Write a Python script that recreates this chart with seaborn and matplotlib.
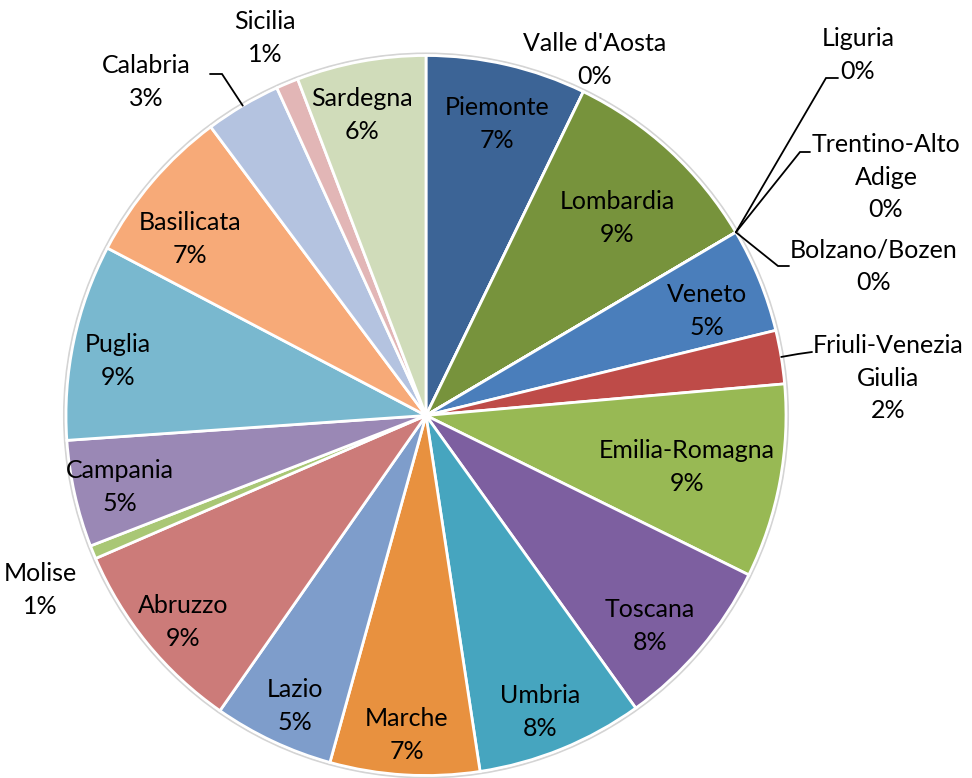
import matplotlib
matplotlib.use("Agg")
import matplotlib.pyplot as plt
import seaborn as sns
import numpy as np

regions = ["Piemonte", "Valle d'Aosta", "Lombardia", "Liguria", "Trentino-Alto\nAdige",
           "Bolzano/Bozen", "Veneto", "Friuli-Venezia\nGiulia", "Emilia-Romagna", "Toscana",
           "Umbria", "Marche", "Lazio", "Abruzzo", "Molise", "Campania", "Puglia",
           "Basilicata", "Calabria", "Sicilia", "Sardegna"]
shares = [7.2, 0.0, 9.3, 0.0, 0.0, 0.0, 4.7, 2.4, 8.7, 7.8, 7.5, 6.7, 5.4, 8.8, 0.6,
          4.8, 8.8, 7.1, 3.4, 1.0, 5.8]
colors = ["#3C6496", "#7A9442", "#77933C", "#4A7EBB", "#4A7EBB", "#4A7EBB", "#4A7EBB",
          "#BE4B48", "#98B954", "#7D5FA0", "#46A5BF", "#E8913F", "#7E9DCB", "#CC7B79",
          "#A9C775", "#9A88B5", "#79B8CF", "#F7AA78", "#B4C3E0", "#E2B6B6", "#D0DCBA"]

# label positions (pixel coordinates, top-left origin)
label_pos = {
    "Piemonte": (497, 124), "Valle d'Aosta": (595, 60), "Lombardia": (617, 218),
    "Liguria": (858, 55), "Trentino-Alto\nAdige": (886, 177), "Bolzano/Bozen": (874, 266),
    "Veneto": (707, 311), "Friuli-Venezia\nGiulia": (888, 378), "Emilia-Romagna": (687, 467),
    "Toscana": (650, 626), "Umbria": (540, 712), "Marche": (407, 735), "Lazio": (295, 706),
    "Abruzzo": (183, 622), "Molise": (40, 590), "Campania": (120, 487), "Puglia": (118, 361),
    "Basilicata": (190, 239), "Calabria": (146, 82), "Sicilia": (265, 38), "Sardegna": (362, 115),
}
# leader line elbows (pixel coords)
leaders = {
    "Liguria": [(826, 78), (838, 78)],
    "Trentino-Alto\nAdige": [(800, 152), (810, 152)],
    "Bolzano/Bozen": [(778, 266), (789, 266)],
    "Friuli-Venezia\nGiulia": [(798, 354), (812, 352)],
    "Calabria": [(222, 74), (210, 74)],
}

sns.set_style("white")
plt.rcParams['font.family'] = ['Lato', 'DejaVu Sans']

W, H = 972, 778
fig = plt.figure(figsize=(W / 100, H / 100), dpi=100)
ax = fig.add_axes([0, 0, 1, 1])
cx, cy, R = 426, 415.5, 360

def Y(y):
    return H - y

ax.add_patch(plt.Circle((cx, Y(cy)), R + 2, facecolor="none", edgecolor="#d4d4d4", lw=1.5, zorder=0))
wedges, _ = ax.pie(shares, colors=colors, startangle=90, counterclock=False,
                   center=(cx, Y(cy)), radius=R,
                   wedgeprops=dict(edgecolor="white", linewidth=2))
ax.set_xlim(0, W)
ax.set_ylim(0, H)
ax.set_aspect("auto")
ax.axis("off")

total = sum(shares)
cum = np.cumsum([0] + shares)
for i, name in enumerate(regions):
    pct = int(round(shares[i] / total * 100))
    x, y = label_pos[name]
    ax.text(x, Y(y), f"{name}\n{pct}%", ha="center", va="center", fontsize=18,
            linespacing=1.5, color="black")
    if name in leaders:
        if name in ("Liguria", "Trentino-Alto\nAdige", "Bolzano/Bozen"):
            frac = cum[i] / total
        else:
            frac = (cum[i] + cum[i + 1]) / 2 / total
        ang = frac * 2 * np.pi
        sx, sy = cx + R * np.sin(ang), cy - R * np.cos(ang)
        pts = [(sx, sy)] + leaders[name]
        ax.plot([p[0] for p in pts], [Y(p[1]) for p in pts], color="black", lw=1.3,
                solid_joinstyle="miter")

fig.savefig("out.png", dpi=100)
